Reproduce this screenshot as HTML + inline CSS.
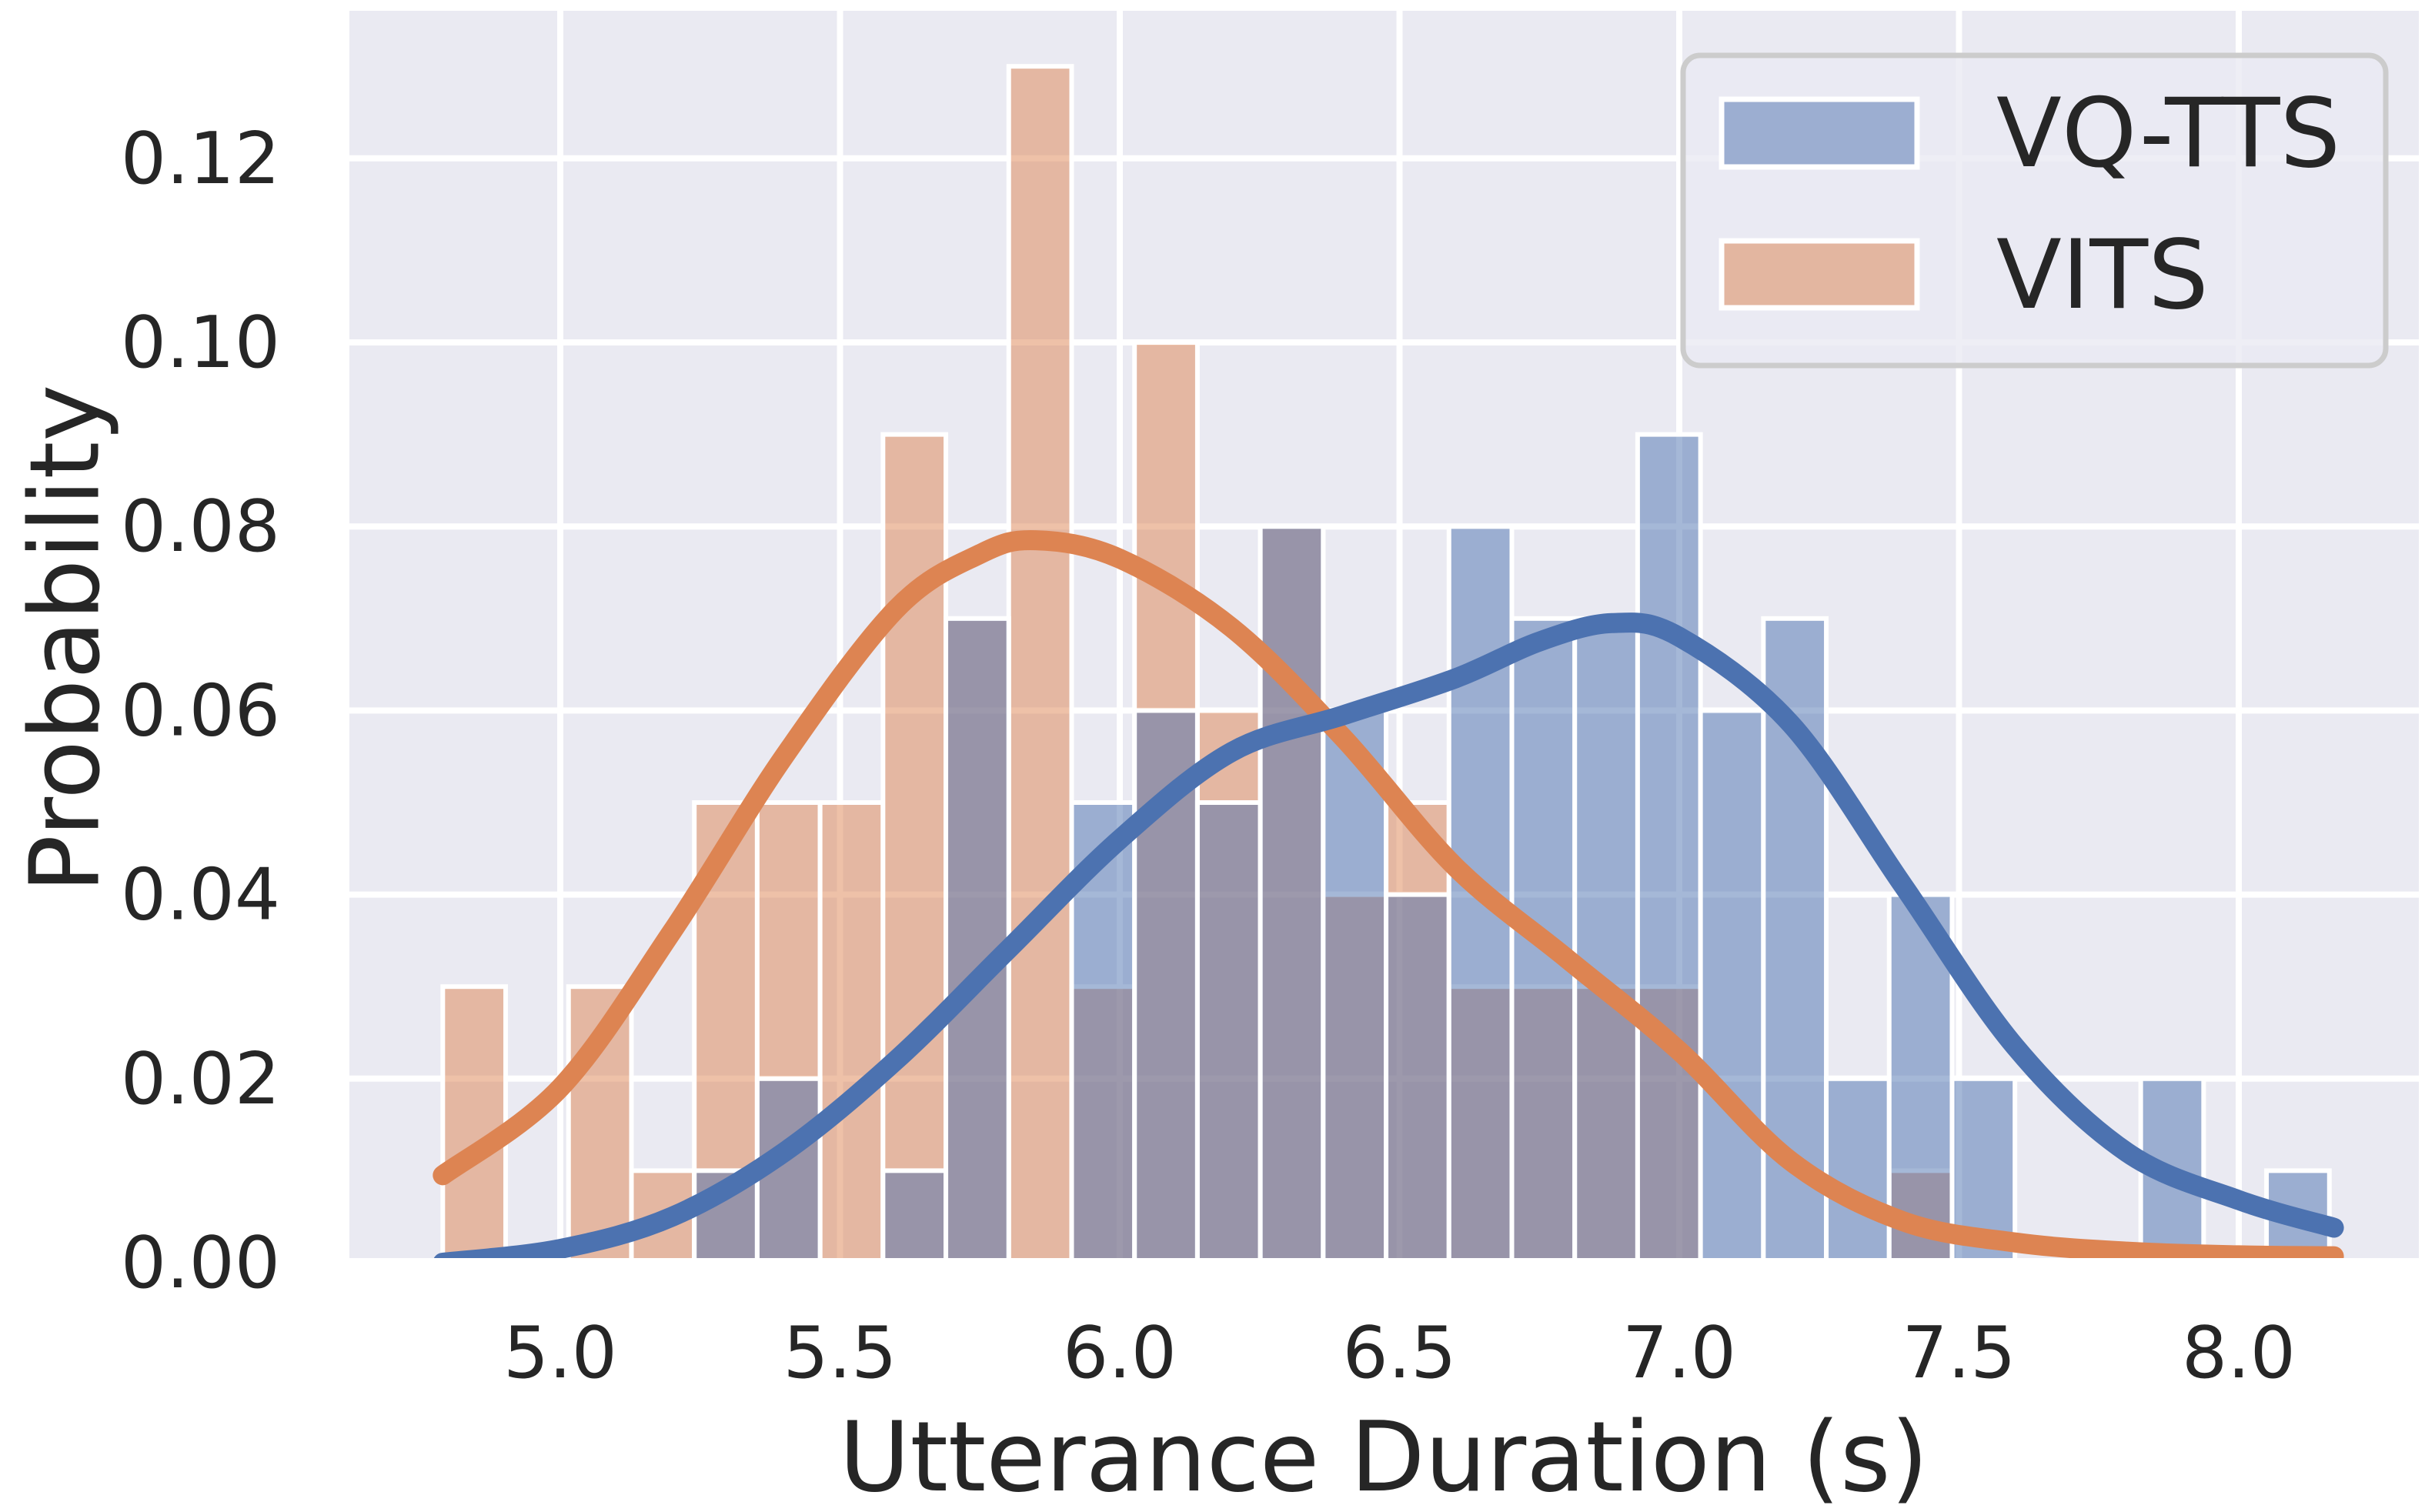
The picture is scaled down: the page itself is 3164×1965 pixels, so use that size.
<!DOCTYPE html>
<html><head><meta charset="utf-8">
<style>
html,body{margin:0;padding:0;background:#fff;}
svg{display:block;font-family:"DejaVu Sans","Liberation Sans",sans-serif;}
</style></head>
<body>
<svg id="chart" width="3164" height="1965" viewBox="0 0 3164 1965" xmlns="http://www.w3.org/2000/svg">
<defs><clipPath id="plotclip"><rect x="454" y="14" width="2689" height="1621"/></clipPath></defs>
<rect x="454" y="14" width="2689" height="1621" fill="#eaeaf2"/>
<g id="grid"></g>
<g id="bars" clip-path="url(#plotclip)"></g>
<g id="curves" clip-path="url(#plotclip)"></g>
<g id="yticks"></g>
<g id="xticks"></g>
<text x="1798" y="1937" font-size="126" fill="#262626" text-anchor="middle">Utterance Duration (s)</text>
<text transform="translate(85,830) rotate(-90)" font-size="125" fill="#262626" text-anchor="middle" dominant-baseline="central">Probability</text>
<g>
<rect x="2187" y="72" width="913" height="403" rx="22" fill="#eaeaf2" fill-opacity="0.8" stroke="#cccccc" stroke-width="7"/>
<g>
<rect x="2237" y="129" width="254" height="88" fill="#9caed1" stroke="#fff" stroke-width="7"/>
<text x="2594" y="216" font-size="124" fill="#262626">VQ-TTS</text>
</g>
<g>
<rect x="2237" y="313" width="254" height="87" fill="#e3b6a0" stroke="#fff" stroke-width="7"/>
<text x="2594" y="400" font-size="124" fill="#262626">VITS</text>
</g>
</g>
</svg>
<script>
const binStart = 4.79;
const binWidth = 0.1124;
const vqttsProb = [0,0,0,0,0.01,0.02,0,0.01,0.07,0,0.05,0.06,0.05,0.08,0.06,0.04,0.08,0.07,0.07,0.09,0.06,0.07,0.02,0.04,0.02,0,0,0.02,0,0.01];
const vitsProb = [0.03,0,0.03,0.01,0.05,0.05,0.05,0.09,0.07,0.13,0.03,0.10,0.06,0.08,0.04,0.05,0.03,0.03,0.03,0.03,0,0,0,0.01,0,0,0,0,0,0];
const vqttsKdeX = [4.79,5.0,5.2,5.4,5.6,5.8,6.0,6.2,6.4,6.6,6.75,6.88,7.0,7.2,7.4,7.6,7.8,8.0,8.17];
const vqttsKdeY = [0.0,0.0015,0.005,0.012,0.022,0.034,0.046,0.0555,0.0595,0.0635,0.0675,0.0695,0.068,0.0585,0.041,0.0235,0.012,0.0068,0.0038];
const vitsKdeX = [4.79,5.0,5.2,5.4,5.6,5.75,5.85,6.0,6.2,6.4,6.6,6.8,7.0,7.2,7.4,7.6,7.8,8.0,8.17];
const vitsKdeY = [0.0095,0.019,0.036,0.055,0.071,0.077,0.0785,0.0765,0.069,0.057,0.043,0.033,0.023,0.011,0.0045,0.0022,0.0012,0.0008,0.0007];
const xTicks = [5.0,5.5,6.0,6.5,7.0,7.5,8.0];
const xTickLabels = ["5.0","5.5","6.0","6.5","7.0","7.5","8.0"];
const yTicks = [0,0.02,0.04,0.06,0.08,0.10,0.12];
const yTickLabels = ["0.00","0.02","0.04","0.06","0.08","0.10","0.12"];

const NS="http://www.w3.org/2000/svg";
function xs(v){return 728+(v-5)*727;}
function ys(v){return 1641-v/0.02*239.2;}
function mk(tag,attrs,parent){const e=document.createElementNS(NS,tag);for(const k in attrs)e.setAttribute(k,attrs[k]);parent.appendChild(e);return e;}

const grid=document.getElementById('grid');
xTicks.forEach((t,i)=>{
  const l=mk('line',{x1:xs(t),x2:xs(t),y1:14,y2:1635,stroke:'#fff','stroke-width':8},grid);
  
  
  const tx=mk('text',{x:xs(t),y:1758,'font-size':93,fill:'#262626','text-anchor':'middle','dominant-baseline':'central'},document.getElementById('xticks'));
  tx.textContent=xTickLabels[i];
  
  
});
yTicks.forEach((t,i)=>{
  const l=mk('line',{x1:454,x2:3143,y1:ys(t),y2:ys(t),stroke:'#fff','stroke-width':8},grid);
  
  
  const tx=mk('text',{x:364,y:ys(t),'font-size':93,fill:'#262626','text-anchor':'end','dominant-baseline':'central'},document.getElementById('yticks'));
  tx.textContent=yTickLabels[i];
  
  
});

const bars=document.getElementById('bars');
function drawBars(vals,color,name){
  vals.forEach((v,i)=>{
    if(v<=0) return;
    const x0=xs(binStart+i*binWidth), x1=xs(binStart+(i+1)*binWidth);
    const r=mk('rect',{x:x0,y:ys(v),width:x1-x0,height:ys(0)-ys(v),fill:color,'fill-opacity':0.5,stroke:'#fff','stroke-width':6},bars);
    
    
  });
}
drawBars(vitsProb,'#dd8452','vits');
drawBars(vqttsProb,'#4c72b0','vq-tts');

function smoothPath(X,Y){
  const p=X.map((x,i)=>[xs(x),ys(Y[i])]);
  let d='M'+p[0][0]+','+p[0][1];
  for(let i=0;i<p.length-1;i++){
    const p0=p[Math.max(0,i-1)],p1=p[i],p2=p[i+1],p3=p[Math.min(p.length-1,i+2)];
    const c1=[p1[0]+(p2[0]-p0[0])/6,p1[1]+(p2[1]-p0[1])/6];
    const c2=[p2[0]-(p3[0]-p1[0])/6,p2[1]-(p3[1]-p1[1])/6];
    d+=' C'+c1[0]+','+c1[1]+' '+c2[0]+','+c2[1]+' '+p2[0]+','+p2[1];
  }
  return d;
}
const curves=document.getElementById('curves');
const oc=mk('path',{d:smoothPath(vitsKdeX,vitsKdeY),fill:'none',stroke:'#dd8452','stroke-width':26,'stroke-linecap':'round','stroke-linejoin':'round'},curves);


const bc=mk('path',{d:smoothPath(vqttsKdeX,vqttsKdeY),fill:'none',stroke:'#4c72b0','stroke-width':26,'stroke-linecap':'round','stroke-linejoin':'round'},curves);


</script>
</body></html>
